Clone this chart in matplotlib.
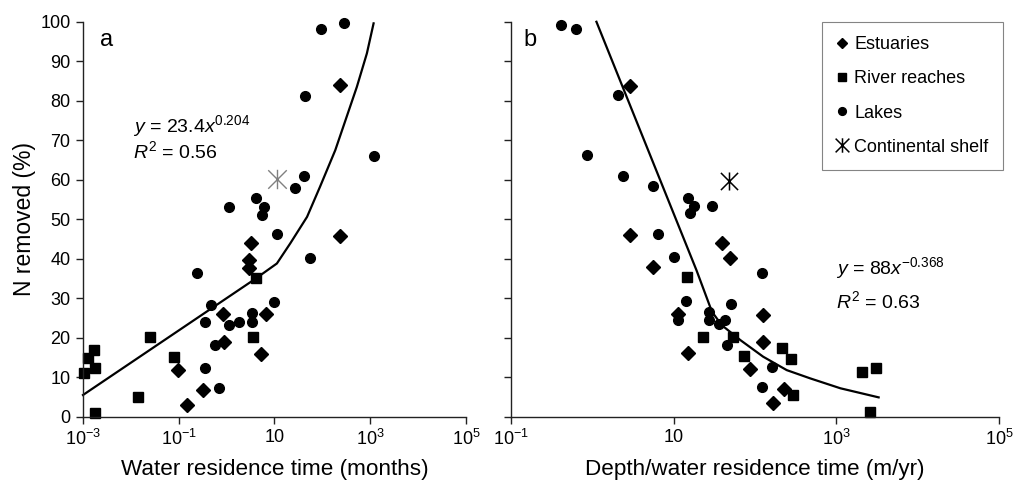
import numpy as np
import matplotlib
matplotlib.use('Agg')
import matplotlib.pyplot as plt
from matplotlib.ticker import NullLocator
from matplotlib.path import Path

plt.rcParams['font.family'] = ['Liberation Sans', 'DejaVu Sans']
plt.rcParams['mathtext.fontset'] = 'custom'
plt.rcParams['mathtext.rm'] = 'Liberation Sans'
plt.rcParams['mathtext.it'] = 'Liberation Sans:italic'

# ---- panel a: N removed vs water residence time (months), x given as log10 ----
est_a_logx = [-0.82, -1.02, -0.50, -0.08, -0.05, 0.46, 0.46, 0.51, 0.82, 0.72, 2.37, 2.37]
est_a_y = [3.0, 11.8, 6.8, 26.0, 19.0, 39.7, 37.6, 44.0, 26.0, 16.0, 84.1, 45.7]

riv_a_logx = [-2.97, -2.90, -2.76, -2.74, -2.74, -1.85, -1.61, -1.09, 0.61, 0.55]
riv_a_y = [11.0, 14.8, 17.0, 12.4, 1.0, 5.1, 20.3, 15.2, 35.0, 20.3]

lake_a_logx = [2.46, 1.97, 1.63, 1.62, 1.42, 3.07, 1.74, 1.05, 1.00, 0.62, 0.79, 0.74,
               0.06, -0.62, -0.33, -0.45, 0.05, 0.26, 0.53, 0.53, -0.24, -0.45, -0.155]
lake_a_y = [99.6, 98.1, 81.3, 61.0, 58.0, 66.1, 40.1, 46.2, 29.0, 55.3, 53.2, 51.1,
            53.2, 36.5, 28.4, 24.1, 23.2, 24.1, 26.2, 24.1, 18.1, 12.4, 7.3]

shelf_a_logx = [1.05]
shelf_a_y = [60.2]

fit_a_logx = [-3.0, 0.61, 1.05, 1.33, 1.68, 1.95, 2.27, 2.72, 2.93, 3.07]
fit_a_y = [5.5, 35.0, 38.8, 43.9, 50.6, 58.2, 67.5, 83.5, 92.0, 99.6]

# ---- panel b: N removed vs depth / water residence time (m/yr) ----
est_b_logx = [0.46, 0.46, 0.75, 1.59, 1.69, 1.05, 2.10, 2.10, 1.17, 1.94, 2.36, 2.22]
est_b_y = [83.8, 45.9, 37.9, 43.9, 40.1, 26.1, 25.7, 19.0, 16.2, 12.2, 6.9, 3.4]

riv_b_logx = [1.16, 1.36, 1.73, 1.86, 2.33, 2.44, 2.47, 3.32, 3.49, 3.41]
riv_b_y = [35.4, 20.1, 20.2, 15.5, 17.5, 14.5, 5.6, 11.2, 12.3, 1.3]

lake_b_logx = [-0.38, -0.20, 0.32, -0.06, 0.38, 0.75, 1.17, 1.25, 1.20, 1.47, 0.81, 1.00,
               2.09, 1.15, 1.70, 1.05, 1.44, 1.44, 1.56, 1.63, 1.66, 2.21, 2.09]
lake_b_y = [99.2, 98.1, 81.4, 66.2, 61.0, 58.5, 55.3, 53.4, 51.5, 53.4, 46.3, 40.4,
            36.3, 29.2, 28.5, 24.6, 26.4, 24.4, 23.4, 24.4, 18.2, 12.5, 7.4]

shelf_b_logx = [1.68]
shelf_b_y = [59.8]

fit_b_logx = [0.05, 1.28, 1.47, 1.59, 1.82, 2.10, 2.39, 2.68, 3.05, 3.52]
fit_b_y = [100.0, 37.1, 26.6, 23.2, 19.4, 15.2, 11.8, 9.7, 7.2, 4.9]

ticks_a = [1e-3, 1e-1, 10, 1e3, 1e5]
ticklabels_a = [r'$\mathregular{10^{-3}}$', r'$\mathregular{10^{-1}}$', '10',
                r'$\mathregular{10^{3}}$', r'$\mathregular{10^{5}}$']
ticks_b = [1e-1, 10, 1e3, 1e5]
ticklabels_b = [r'$\mathregular{10^{-1}}$', '10', r'$\mathregular{10^{3}}$', r'$\mathregular{10^{5}}$']
yticks = [0, 10, 20, 30, 40, 50, 60, 70, 80, 90, 100]

# "x" with a vertical bar through it, as used for the continental shelf
shelf_marker = Path([(-1, -1), (1, 1), (-1, 1), (1, -1), (0, -1.05), (0, 1.05)],
                    [Path.MOVETO, Path.LINETO, Path.MOVETO, Path.LINETO, Path.MOVETO, Path.LINETO])


def setup_axes(ax, xlim, ticks, labels, xlabel):
    ax.set_xscale('log')
    ax.set_xlim(*xlim)
    ax.set_ylim(0, 100)
    ax.set_xticks(ticks)
    ax.set_xticklabels(labels)
    ax.xaxis.set_minor_locator(NullLocator())
    ax.set_yticks(yticks)
    for side in ['top', 'right']:
        ax.spines[side].set_visible(False)
    for side in ['left', 'bottom']:
        ax.spines[side].set_linewidth(1.0)
        ax.spines[side].set_color('#222222')
    ax.tick_params(direction='out', length=5, width=1.0, color='#222222', labelsize=13, pad=4)
    ax.set_xlabel(xlabel, fontsize=16.2, labelpad=7)


def draw_points(ax, est_lx, est_y, riv_lx, riv_y, lake_lx, lake_y):
    ax.plot(np.power(10.0, est_lx), est_y, 'D', color='black', ms=7, ls='none',
            clip_on=False, label='Estuaries')
    ax.plot(np.power(10.0, riv_lx), riv_y, 's', color='black', ms=7.8, ls='none',
            clip_on=False, label='River reaches')
    ax.plot(np.power(10.0, lake_lx), lake_y, 'o', color='black', ms=7, ls='none',
            clip_on=False, label='Lakes')


fig = plt.figure(figsize=(10.17, 4.84), dpi=100)
ax_a = fig.add_axes([0.0816, 0.139, 0.3766, 0.816])
ax_b = fig.add_axes([0.5025, 0.139, 0.4798, 0.816])

# panel a
setup_axes(ax_a, (1e-3, 1e5), ticks_a, ticklabels_a, 'Water residence time (months)')
ax_a.set_ylabel('N removed (%)', fontsize=16.5, labelpad=3)
ax_a.plot(np.power(10.0, fit_a_logx), fit_a_y, color='black', lw=1.6, clip_on=False)
draw_points(ax_a, est_a_logx, est_a_y, riv_a_logx, riv_a_y, lake_a_logx, lake_a_y)
ax_a.plot(np.power(10.0, shelf_a_logx), shelf_a_y, marker=shelf_marker, color='#808080',
          ms=14, mew=1.0, ls='none')
ax_a.text(0.045, 0.955, 'a', transform=ax_a.transAxes, fontsize=17, va='center')
ax_a.text(0.13, 0.72, r'$\mathit{y}$ = 23.4$\mathit{x}^{0.204}$', transform=ax_a.transAxes,
          fontsize=14, va='baseline')
ax_a.text(0.13, 0.655, r'$\mathit{R}^{2}$ = 0.56', transform=ax_a.transAxes,
          fontsize=14, va='baseline')

# panel b
setup_axes(ax_b, (1e-1, 1e5), ticks_b, ticklabels_b, 'Depth/water residence time (m/yr)')
ax_b.tick_params(axis='y', labelleft=False)
ax_b.plot(np.power(10.0, fit_b_logx), fit_b_y, color='black', lw=1.6, clip_on=False)
draw_points(ax_b, est_b_logx, est_b_y, riv_b_logx, riv_b_y, lake_b_logx, lake_b_y)
ax_b.plot(np.power(10.0, shelf_b_logx), shelf_b_y, marker=shelf_marker, color='black',
          ms=13, mew=1.1, ls='none', label='Continental shelf')
ax_b.text(0.025, 0.955, 'b', transform=ax_b.transAxes, fontsize=17, va='center')
ax_b.text(0.665, 0.362, r'$\mathit{y}$ = 88$\mathit{x}^{-0.368}$', transform=ax_b.transAxes,
          fontsize=14, va='baseline')
ax_b.text(0.665, 0.276, r'$\mathit{R}^{2}$ = 0.63', transform=ax_b.transAxes,
          fontsize=14, va='baseline')

leg = ax_b.legend(loc='upper right', bbox_to_anchor=(1.008, 1.0), borderaxespad=0,
                  fontsize=13, frameon=True, fancybox=False, handlelength=0.6,
                  handletextpad=0.4, labelspacing=0.95, borderpad=0.8, markerscale=0.8)
leg.get_frame().set_edgecolor('#666666')
leg.get_frame().set_linewidth(0.8)

fig.savefig('out.png', dpi=100)
